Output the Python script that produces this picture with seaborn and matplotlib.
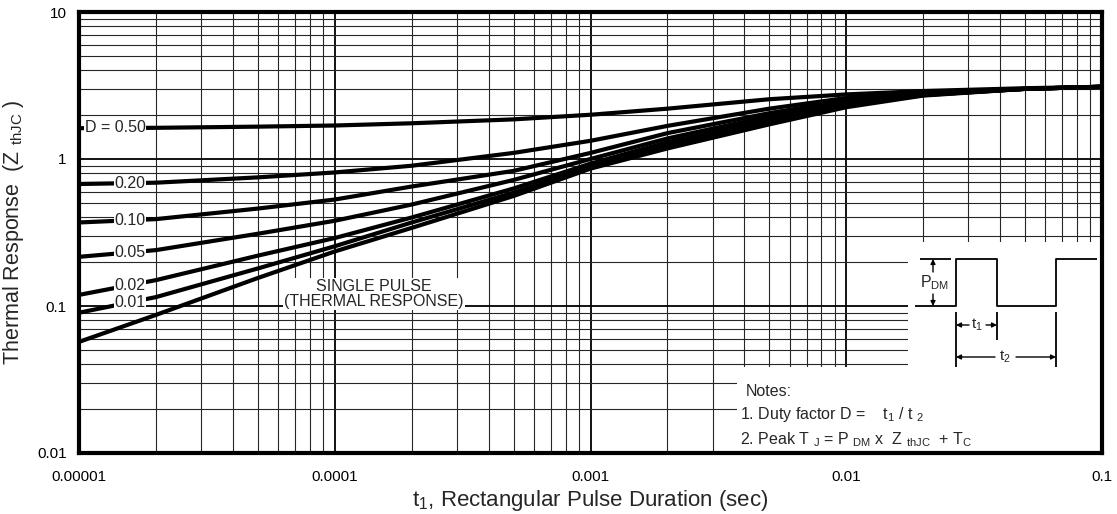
import numpy as np
import pandas as pd
import matplotlib
matplotlib.use('Agg')
import matplotlib.pyplot as plt
import seaborn as sns
from matplotlib.ticker import LogLocator, FixedLocator, FixedFormatter, NullFormatter
from matplotlib.patches import Rectangle

# pulse duration (sec) and thermal response
t_sec = [1e-5, 2e-5, 5e-5, 1e-4, 2e-4, 5e-4, 1e-3, 2e-3, 5e-3, 1e-2, 2e-2, 5e-2, 1e-1]
z_d50 = [1.62, 1.63, 1.66, 1.69, 1.75, 1.86, 2.00, 2.20, 2.55, 2.75, 2.90, 3.03, 3.10]
z_d20 = [0.676, 0.69, 0.75, 0.81, 0.90, 1.10, 1.33, 1.68, 2.20, 2.60, 2.82, 3.00, 3.10]
z_d10 = [0.37, 0.39, 0.46, 0.53, 0.65, 0.83, 1.10, 1.50, 2.05, 2.50, 2.78, 3.00, 3.10]
z_d05 = [0.216, 0.24, 0.31, 0.38, 0.49, 0.72, 1.00, 1.38, 1.95, 2.42, 2.75, 3.00, 3.10]
z_d02 = [0.119, 0.15, 0.22, 0.29, 0.40, 0.63, 0.93, 1.30, 1.85, 2.36, 2.73, 3.00, 3.10]
z_d01 = [0.09, 0.115, 0.18, 0.255, 0.37, 0.59, 0.89, 1.25, 1.80, 2.30, 2.72, 3.00, 3.10]
z_single = [0.057, 0.087, 0.155, 0.235, 0.34, 0.56, 0.86, 1.18, 1.72, 2.25, 2.70, 3.00, 3.10]

curve_names = ['D = 0.50', '0.20', '0.10', '0.05', '0.02', '0.01', 'single']
curve_vals = [z_d50, z_d20, z_d10, z_d05, z_d02, z_d01, z_single]

x_ticks = [1e-5, 1e-4, 1e-3, 1e-2, 1e-1]
x_tick_labels = ['0.00001', '0.0001', '0.001', '0.01', '0.1']
y_ticks = [0.01, 0.1, 1, 10]
y_tick_labels = ['0.01', '0.1', '1', '10']

rows = []
for name, vals in zip(curve_names, curve_vals):
    for t, z in zip(t_sec, vals):
        rows.append((name, t, z))
df = pd.DataFrame(rows, columns=['curve', 't', 'z'])

sns.set_style('white')
plt.rcParams['font.family'] = ['Liberation Sans', 'DejaVu Sans']
plt.rcParams['mathtext.fontset'] = 'custom'
plt.rcParams['mathtext.rm'] = 'Liberation Sans'
plt.rcParams['mathtext.it'] = 'Liberation Sans:italic'
plt.rcParams['mathtext.bf'] = 'Liberation Sans:bold'

W, H = 1117, 514
L, R, T, B = 79, 1102, 12, 453

fig = plt.figure(figsize=(W / 100, H / 100), dpi=100)
ax = fig.add_axes([L / W, (H - B) / H, (R - L) / W, (B - T) / H])

sns.lineplot(data=df, x='t', y='z', hue='curve',
             palette={c: 'black' for c in curve_names},
             linewidth=3, legend=False, estimator=None, sort=False,
             ax=ax, zorder=3)

ax.set_xscale('log')
ax.set_yscale('log')
ax.set_xlim(1e-5, 0.1)
ax.set_ylim(0.01, 10)

ax.xaxis.set_major_locator(FixedLocator(x_ticks))
ax.xaxis.set_major_formatter(FixedFormatter(x_tick_labels))
ax.yaxis.set_major_locator(FixedLocator(y_ticks))
ax.yaxis.set_major_formatter(FixedFormatter(y_tick_labels))
ax.xaxis.set_minor_locator(LogLocator(base=10, subs=np.arange(2, 10)))
ax.yaxis.set_minor_locator(LogLocator(base=10, subs=np.arange(2, 10)))
ax.xaxis.set_minor_formatter(NullFormatter())
ax.yaxis.set_minor_formatter(NullFormatter())
ax.tick_params(which='both', length=0, labelsize=11, colors='black')
ax.tick_params(axis='y', pad=9)
ax.tick_params(axis='x', pad=12)

ax.set_axisbelow(True)
ax.grid(which='major', color='black', linewidth=1.3)
ax.grid(which='minor', color='#262626', linewidth=0.8)
for s in ax.spines.values():
    s.set_visible(True)
    s.set_color('black')
    s.set_linewidth(3)

ax.set_xlabel('t$_1$, Rectangular Pulse Duration (sec)', fontsize=16, labelpad=3)
ax.set_ylabel('Thermal Response  (Z $_{\\mathrm{thJC}}$ )', fontsize=15.5, labelpad=8)


def pa(x, y):
    # image pixel -> axes fraction
    return ((x - L) / (R - L), (B - y) / (B - T))


# blank areas for the inset sketch and notes
for x0, y0 in [(908, 242), (737, 367)]:
    ax.add_patch(Rectangle(pa(x0, B), (R - x0) / (R - L), (B - y0) / (B - T),
                           transform=ax.transAxes, facecolor='white',
                           edgecolor='none', zorder=1))

# duty cycle labels sitting on the curves
label_t = 1.82e-5
lt = np.log10(t_sec)
for name, vals in zip(curve_names[:-1], curve_vals[:-1]):
    yv = 10 ** np.interp(np.log10(1.55e-5), lt, np.log10(vals))
    ax.text(label_t, yv, name, ha='right', va='center', fontsize=11.5, zorder=4,
            bbox=dict(facecolor='white', edgecolor='none', pad=0.6))

ax.text(*pa(374, 294), 'SINGLE PULSE\n(THERMAL RESPONSE)', transform=ax.transAxes,
        ha='center', va='center', fontsize=11.5, linespacing=1.0, zorder=4,
        bbox=dict(facecolor='white', edgecolor='none', pad=1))

# pulse sketch
def seg(pts, lw=1.3):
    xs, ys = zip(*[pa(x, y) for x, y in pts])
    ax.plot(xs, ys, color='black', lw=lw, transform=ax.transAxes, zorder=4,
            solid_capstyle='butt')


seg([(915, 306), (956, 306), (956, 259), (997, 259), (997, 306),
     (1056, 306), (1056, 259), (1097, 259)])
seg([(920, 259), (951, 259)])
seg([(956, 312), (956, 367)])
seg([(997, 312), (997, 340)])
seg([(1056, 312), (1056, 367)])


def arrow(p_from, p_to):
    ax.annotate('', xy=pa(*p_to), xytext=pa(*p_from), xycoords='axes fraction',
                textcoords='axes fraction', zorder=4,
                arrowprops=dict(arrowstyle='-|>', lw=1, color='black',
                                mutation_scale=7, shrinkA=0, shrinkB=0))


arrow((933, 272), (933, 259))
arrow((933, 294), (933, 306))
arrow((969, 325), (956, 325))
arrow((986, 325), (997, 325))
arrow((995, 357), (956, 357))
arrow((1016, 357), (1056, 357))

ax.text(*pa(935, 283), 'P$_{\\mathrm{DM}}$', transform=ax.transAxes,
        ha='center', va='center', fontsize=11.5, zorder=4)
ax.text(*pa(977, 325), 't$_1$', transform=ax.transAxes,
        ha='center', va='center', fontsize=11, zorder=4)
ax.text(*pa(1005, 357), 't$_2$', transform=ax.transAxes,
        ha='center', va='center', fontsize=11, zorder=4)

# notes
ax.text(*pa(746, 392), 'Notes:', transform=ax.transAxes,
        ha='left', va='center', fontsize=11.5, zorder=4)
ax.text(*pa(740, 415), '1. Duty factor D =    t$_1$ / t $_2$', transform=ax.transAxes,
        ha='left', va='center', fontsize=11.5, zorder=4)
ax.text(*pa(740, 440),
        '2. Peak T $_{\\mathrm{J}}$ = P $_{\\mathrm{DM}}$ x  Z $_{\\mathrm{thJC}}$  + T$_{\\mathrm{C}}$',
        transform=ax.transAxes, ha='left', va='center', fontsize=11.5, zorder=4)

fig.savefig('out.png', dpi=100)
